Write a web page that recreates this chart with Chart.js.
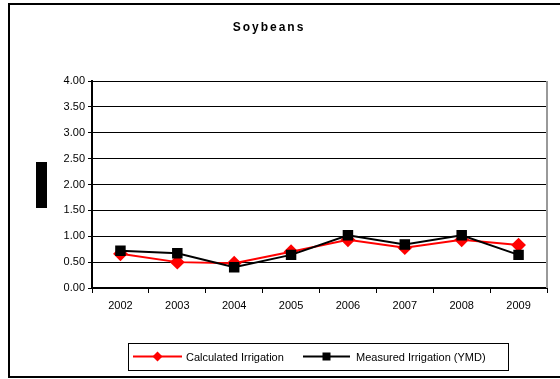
<!DOCTYPE html>
<html>
<head>
<meta charset="utf-8">
<script src="https://cdn.jsdelivr.net/npm/chart.js@4"></script>
<style>
  html, body { margin: 0; padding: 0; background: #fff; }
  #wrap { width: 560px; height: 379px; }
</style>
</head>
<body>
<div id="wrap"><canvas id="chart" width="560" height="379"></canvas></div>
<script>
"use strict";

const years = ["2002", "2003", "2004", "2005", "2006", "2007", "2008", "2009"];
const calculated = [0.66, 0.50, 0.48, 0.70, 0.93, 0.78, 0.93, 0.83];
const measured = [0.72, 0.67, 0.40, 0.64, 1.02, 0.84, 1.02, 0.64];
const yTicks = [0, 0.5, 1, 1.5, 2, 2.5, 3, 3.5, 4];

const fontName = "'Liberation Sans', Arial, sans-serif";

// title, frame, the black box on the left and the boxed legend
const decor = {
  id: "decor",
  beforeDraw(chart) {
    const ctx = chart.ctx;
    ctx.save();
    ctx.fillStyle = "#fff";
    ctx.fillRect(0, 0, chart.width, chart.height);
    ctx.restore();
  },
  afterDraw(chart) {
    const ctx = chart.ctx;
    const area = chart.chartArea;
    ctx.save();

    // outer frame
    ctx.strokeStyle = "#000";
    ctx.lineWidth = 2;
    ctx.strokeRect(9, 4, 570, 373);

    // gray right edge of plot area
    ctx.strokeStyle = "#999";
    ctx.lineWidth = 2;
    ctx.beginPath();
    ctx.moveTo(area.right, area.top);
    ctx.lineTo(area.right, area.bottom);
    ctx.stroke();

    // title
    ctx.fillStyle = "#000";
    ctx.font = "bold 12px " + fontName;
    ctx.textAlign = "center";
    ctx.textBaseline = "middle";
    ctx.letterSpacing = "2px";
    ctx.fillText("Soybeans", 269, 28);
    ctx.letterSpacing = "0px";

    // black block where the axis title was
    ctx.fillRect(36, 162, 11, 46);

    // legend
    const lx = 128, ly = 343, lw = 380, lh = 27;
    ctx.strokeStyle = "#000";
    ctx.lineWidth = 1;
    ctx.strokeRect(lx + 0.5, ly + 0.5, lw, lh);
    const cy = ly + lh / 2;
    ctx.font = "11px " + fontName;
    ctx.textAlign = "left";
    const items = [
      { ds: chart.data.datasets[0], x0: 133, x1: 182, tx: 186 },
      { ds: chart.data.datasets[1], x0: 303, x1: 350, tx: 356 },
    ];
    items.forEach((it) => {
      ctx.strokeStyle = it.ds.borderColor;
      ctx.lineWidth = 2;
      ctx.beginPath();
      ctx.moveTo(it.x0, cy);
      ctx.lineTo(it.x1, cy);
      ctx.stroke();
      ctx.fillStyle = it.ds.pointBackgroundColor;
      const mx = (it.x0 + it.x1) / 2;
      if (it.ds.pointStyle === "rectRot") {
        ctx.beginPath();
        ctx.moveTo(mx, cy - 5);
        ctx.lineTo(mx + 5, cy);
        ctx.lineTo(mx, cy + 5);
        ctx.lineTo(mx - 5, cy);
        ctx.closePath();
        ctx.fill();
      } else {
        ctx.fillRect(mx - 4, cy - 4, 8, 8);
      }
      ctx.fillStyle = "#000";
      ctx.fillText(it.ds.label, it.tx, cy + 1);
    });
    ctx.restore();
  },
};

const data = {
  labels: years,
  datasets: [
    {
      label: "Calculated Irrigation",
      data: calculated,
      borderColor: "#ff0000",
      backgroundColor: "#ff0000",
      pointBackgroundColor: "#ff0000",
      pointBorderColor: "#ff0000",
      pointStyle: "rectRot",
      pointRadius: 6,
      borderWidth: 2,
      tension: 0,
      order: 1,
    },
    {
      label: "Measured Irrigation (YMD)",
      data: measured,
      borderColor: "#000000",
      backgroundColor: "#000000",
      pointBackgroundColor: "#000000",
      pointBorderColor: "#000000",
      pointStyle: "rect",
      pointRadius: 6,
      borderWidth: 2,
      tension: 0,
      order: 0,
    },
  ],
};

const config = {
  type: "line",
  data: data,
  options: {
    responsive: false,
    animation: false,
    layout: { padding: { top: 81, right: 13, left: 0, bottom: 0 } },
    plugins: {
      legend: { display: false },
      title: { display: false },
      tooltip: { enabled: false },
    },
    scales: {
      x: {
        offset: true,
        afterFit: (axis) => { axis.height = 91; },
        grid: {
          offset: true,
          drawOnChartArea: false,
          drawTicks: true,
          tickLength: 5,
          color: "#000",
        },
        border: { color: "#000", width: 2 },
        ticks: {
          color: "#000",
          font: { family: fontName, size: 11 },
          padding: 6,
          maxRotation: 0,
        },
      },
      y: {
        min: 0,
        max: 4,
        afterFit: (axis) => { axis.width = 92; },
        afterBuildTicks: (axis) => {
          axis.ticks = yTicks.map((v) => ({ value: v }));
        },
        grid: {
          color: "#000",
          lineWidth: 1,
          drawTicks: true,
          tickLength: 4,
        },
        border: { color: "#000", width: 2 },
        ticks: {
          color: "#000",
          font: { family: fontName, size: 11 },
          padding: 3,
          callback: (v) => Number(v).toFixed(2),
        },
      },
    },
  },
  plugins: [decor],
};

const myChart = new Chart(document.getElementById("chart"), config);
</script>
</body>
</html>
